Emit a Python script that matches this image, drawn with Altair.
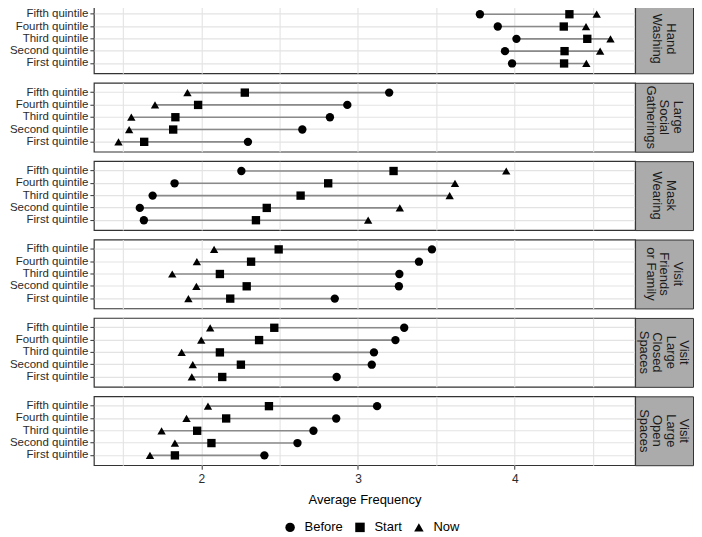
import altair as alt
import pandas as pd

quintiles = ["First quintile", "Second quintile", "Third quintile", "Fourth quintile", "Fifth quintile"]
times = ["Before", "Start", "Now"]
behaviors = ["Hand Washing", "Large Social Gatherings", "Mask Wearing",
             "Visit Friends or Family", "Visit Large Closed Spaces", "Visit Large Open Spaces"]
strip_labels = [["Hand", "Washing"], ["Large", "Social", "Gatherings"], ["Mask", "Wearing"],
                ["Visit", "Friends", "or Family"], ["Visit", "Large", "Closed", "Spaces"],
                ["Visit", "Large", "Open", "Spaces"]]

# values ordered First -> Fifth quintile
hand_before = [3.983, 3.938, 4.011, 3.892, 3.778]
hand_start = [4.315, 4.318, 4.463, 4.313, 4.349]
hand_now = [4.457, 4.545, 4.611, 4.455, 4.523]

social_before = [2.298, 2.645, 2.821, 2.932, 3.199]
social_start = [1.636, 1.821, 1.835, 1.980, 2.278]
social_now = [1.472, 1.540, 1.554, 1.705, 1.912]

mask_before = [1.634, 1.608, 1.690, 1.830, 2.256]
mask_start = [2.349, 2.418, 2.634, 2.810, 3.227]
mask_now = [3.065, 3.267, 3.585, 3.619, 3.946]

friends_before = [2.852, 3.261, 3.264, 3.389, 3.472]
friends_start = [2.185, 2.290, 2.119, 2.318, 2.494]
friends_now = [1.918, 1.969, 1.815, 1.972, 2.082]

closed_before = [2.864, 3.088, 3.102, 3.239, 3.295]
closed_start = [2.134, 2.253, 2.119, 2.369, 2.466]
closed_now = [1.940, 1.946, 1.875, 2.000, 2.057]

open_before = [2.403, 2.614, 2.716, 2.861, 3.122]
open_start = [1.832, 2.065, 1.974, 2.159, 2.432]
open_now = [1.673, 1.832, 1.747, 1.906, 2.043]

series = {
    "Hand Washing": (hand_before, hand_start, hand_now),
    "Large Social Gatherings": (social_before, social_start, social_now),
    "Mask Wearing": (mask_before, mask_start, mask_now),
    "Visit Friends or Family": (friends_before, friends_start, friends_now),
    "Visit Large Closed Spaces": (closed_before, closed_start, closed_now),
    "Visit Large Open Spaces": (open_before, open_start, open_now),
}

PANEL_W = 542
PANEL_H = 69
STRIP_W = 58
LINE_H = 13.5
TEXT = "#2b2b2b"
GRID = "#e3e3e3"

x_scale = alt.Scale(domain=[1.315, 4.768], nice=False, zero=False)
y_scale = alt.Scale(domain=quintiles[::-1], padding=0.6)

y_axis = alt.Axis(title=None, labelFontSize=11.5, labelColor=TEXT, tickColor="#333333",
                  tickSize=4, labelPadding=2, domain=False, grid=True, gridColor=GRID,
                  gridWidth=1.2)

shape_enc = alt.Shape(
    "time:N",
    scale=alt.Scale(domain=times, range=["circle", "square", "triangle-up"]),
    legend=alt.Legend(title=None, orient="none", legendX=190, legendY=517,
                      direction="horizontal", labelFontSize=13, labelColor="black",
                      symbolSize=90, symbolFillColor="black", symbolStrokeColor="black",
                      symbolStrokeWidth=0, columnPadding=10, labelOffset=8),
)


def x_axis(bottom):
    if bottom:
        return alt.Axis(values=[1.5, 2, 2.5, 3, 3.5, 4, 4.5],
                        labelExpr="datum.value % 1 == 0 ? format(datum.value, 'd') : ''",
                        tickOpacity={"condition": {"test": "datum.value % 1 != 0", "value": 0}, "value": 1},
                        title="Average Frequency", titleFontSize=13, titleFontWeight="normal",
                        titleColor="black", titlePadding=9, labelFontSize=12, labelColor=TEXT,
                        tickColor="#333333", tickSize=4, labelPadding=4, domain=False,
                        grid=True, gridColor=GRID, gridWidth=1.1)
    return alt.Axis(values=[1.5, 2, 2.5, 3, 3.5, 4, 4.5], labels=False, ticks=False,
                    domain=False, title=None, grid=True, gridColor=GRID, gridWidth=1.1)


rows = []
for i, (beh, lines) in enumerate(zip(behaviors, strip_labels)):
    b, s, n = series[beh]
    long_rows = []
    seg_rows = []
    for q, vb, vs, vn in zip(quintiles, b, s, n):
        for t, v in zip(times, (vb, vs, vn)):
            long_rows.append({"quintile": q, "time": t, "value": v})
        seg_rows.append({"quintile": q, "lo": min(vb, vs, vn), "hi": max(vb, vs, vn)})
    pts_df = pd.DataFrame(long_rows)
    seg_df = pd.DataFrame(seg_rows)
    bottom = i == len(behaviors) - 1
    xa = x_axis(bottom)

    seg = alt.Chart(seg_df).mark_rule(color="#8a8a8a", strokeWidth=1.6).encode(
        x=alt.X("lo:Q", scale=x_scale, axis=xa),
        x2="hi:Q",
        y=alt.Y("quintile:N", scale=y_scale, axis=y_axis),
    )
    pts = alt.Chart(pts_df).mark_point(filled=True, size=70, color="black", opacity=1).encode(
        x=alt.X("value:Q", scale=x_scale, axis=xa),
        y=alt.Y("quintile:N", scale=y_scale, axis=y_axis),
        shape=shape_enc,
    )
    panel = alt.layer(seg, pts).properties(width=PANEL_W, height=PANEL_H)

    nl = len(lines)
    text_layers = []
    for k, line in enumerate(lines):
        cx = STRIP_W / 2 + ((nl - 1) / 2 - k) * LINE_H
        text_layers.append(
            alt.Chart(pd.DataFrame({"label": [line]})).mark_text(
                angle=90, fontSize=13, color="#1a1a1a", align="center", baseline="middle",
            ).encode(x=alt.value(cx), y=alt.value(PANEL_H / 2), text="label:N")
        )
    strip = alt.layer(*text_layers).properties(
        width=STRIP_W, height=PANEL_H,
        view=alt.ViewBackground(fill="#ababab", stroke="#333333", strokeWidth=1))

    rows.append(alt.hconcat(panel, strip, spacing=0, bounds="flush"))

chart = alt.vconcat(*rows, spacing=7.5).properties(
    padding={"top": -5, "left": 0, "right": 0, "bottom": 0}
).configure(
    font="Liberation Sans"
).configure_view(stroke="#333333", strokeWidth=1.2)

chart.save("out.html", embed_options={"renderer": "svg", "actions": False})
